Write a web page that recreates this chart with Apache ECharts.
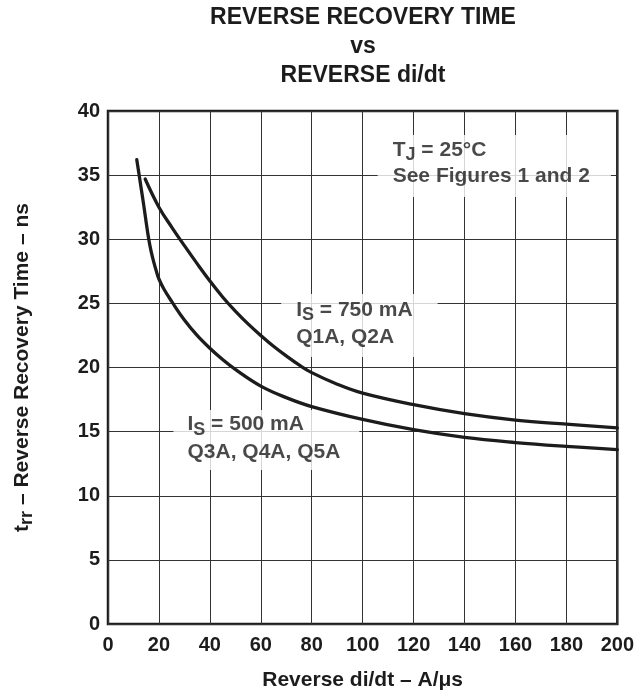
<!DOCTYPE html>
<html>
<head>
<meta charset="utf-8">
<script src="https://cdn.jsdelivr.net/npm/echarts@6/dist/echarts.min.js"></script>
<style>
  html, body { margin: 0; padding: 0; background: #fff; }
  #chart { width: 637px; height: 696px; }
</style>
</head>
<body>
<div id="chart"></div>
<script>
// Reverse recovery time t_rr (ns) against reverse di/dt (A/µs)
// IS = 750 mA (Q1A, Q2A)
const didtHigh = [14.6, 20, 25, 30, 35, 40, 45, 50, 55, 60, 65, 70, 75, 80, 90, 100, 120, 140, 160, 180, 200];
const trrHigh  = [34.7, 32.5, 30.95, 29.5, 28.1, 26.75, 25.5, 24.4, 23.4, 22.5, 21.65, 20.9, 20.2, 19.6, 18.7, 18.0, 17.1, 16.4, 15.9, 15.58, 15.3];

// IS = 500 mA (Q3A, Q4A, Q5A)
const didtLow = [11.3, 12, 13, 14, 15, 16, 17, 18, 19, 20, 22, 25, 30, 35, 40, 45, 50, 60, 70, 80, 100, 120, 140, 160, 180, 200];
const trrLow  = [36.2, 35.3, 34.0, 32.7, 31.3, 30.0, 29.0, 28.2, 27.5, 26.9, 26.1, 25.15, 23.7, 22.5, 21.5, 20.62, 19.85, 18.55, 17.65, 16.95, 15.95, 15.15, 14.55, 14.15, 13.85, 13.6];

const xTickLabels = ['0', '20', '40', '60', '80', '100', '120', '140', '160', '180', '200'];
const yTickLabels = ['0', '5', '10', '15', '20', '25', '30', '35', '40'];

const titleLines = ['REVERSE RECOVERY TIME', 'vs', 'REVERSE di/dt'];
const xName = 'Reverse di/dt \u2013 A/\u03bcs';
const yName = '{m|t}{s|rr}{m| \u2013 Reverse Recovery Time \u2013 ns}';

// Condition notes: text and the data point at the top-left corner of each note box
const noteText = [
  '{m|T}{s|J}{m| = 25\u00b0C}\n{m|See Figures 1 and 2}',
  '{m|I}{s|S}{m| = 750 mA}\n{m|Q1A, Q2A}',
  '{m|I}{s|S}{m| = 500 mA}\n{m|Q3A, Q4A, Q5A}'
];
const noteAnchor = [[105.9, 38.13], [68.0, 25.73], [25.7, 16.69]];

// ---- styling ----
const FONT = '"Liberation Sans", Arial, Helvetica, sans-serif';
const INK = '#1c1c1c';
const noteLayout = [
  { lineHeight: 26, padding: [2, 21, 8, 15] },
  { lineHeight: 27, padding: [3, 25, 6, 15] },
  { lineHeight: 27.5, padding: [1, 19, 4, 14] }
];

function richFor(lineHeight, size, subSize) {
  return {
    m: { fontSize: size, fontWeight: 'bold', fontFamily: FONT, color: INK, lineHeight: lineHeight },
    s: { fontSize: subSize, fontWeight: 'bold', fontFamily: FONT, color: INK,
         lineHeight: lineHeight - 10, padding: [10, 0, 0, 0] }
  };
}

const chart = echarts.init(document.getElementById('chart'), null, { renderer: 'canvas' });

const curveStyle = { color: INK, width: 3.3, cap: 'round', join: 'round' };

const option = {
  backgroundColor: '#fff',
  animation: false,
  graphic: [{
    type: 'text',
    x: 363,
    y: 3.5,
    style: {
      text: titleLines.join('\n'),
      font: 'bold 23px ' + FONT,
      fill: INK,
      align: 'center',
      verticalAlign: 'top',
      lineHeight: 29
    }
  }],
  grid: {
    left: 106, right: 19, top: 111, bottom: 72,
    show: true,
    borderColor: INK,
    borderWidth: 2.5,
    backgroundColor: 'transparent'
  },
  xAxis: {
    type: 'value',
    min: 0, max: 200, interval: 20,
    name: xName,
    nameLocation: 'middle',
    nameGap: 46,
    nameTextStyle: { fontSize: 21, fontWeight: 'bold', fontFamily: FONT, color: INK, lineHeight: 21 },
    axisLine: { show: false },
    axisTick: { show: false },
    axisLabel: {
      margin: 11,
      fontSize: 20, fontWeight: 'bold', fontFamily: FONT, color: INK, lineHeight: 20,
      showMinLabel: true, showMaxLabel: true,
      formatter: (v) => xTickLabels[Math.round(v / 20)]
    },
    splitLine: { show: true, lineStyle: { color: '#333', width: 1 } }
  },
  yAxis: {
    type: 'value',
    min: 0, max: 40, interval: 5,
    name: yName,
    nameLocation: 'middle',
    nameGap: 75,
    nameRotate: 90,
    nameTextStyle: { rich: richFor(22, 21, 18) },
    axisLine: { show: false },
    axisTick: { show: false },
    axisLabel: {
      margin: 8,
      fontSize: 20, fontWeight: 'bold', fontFamily: FONT, color: INK,
      showMinLabel: true, showMaxLabel: true,
      formatter: (v) => yTickLabels[Math.round(v / 5)]
    },
    splitLine: { show: true, lineStyle: { color: '#333', width: 1 } }
  },
  series: [
    {
      name: 'notes',
      type: 'scatter',
      z: 2,
      symbolSize: 0,
      silent: true,
      data: noteAnchor.map((p, i) => ({
        value: p,
        label: {
          show: true,
          position: [0, 0],
          align: 'left',
          verticalAlign: 'top',
          formatter: noteText[i],
          backgroundColor: '#fff',
          padding: noteLayout[i].padding,
          rich: richFor(noteLayout[i].lineHeight, 21, 18)
        }
      }))
    },
    {
      name: 'IS = 750 mA',
      type: 'line',
      z: 3,
      smooth: 0.4,
      showSymbol: false,
      lineStyle: curveStyle,
      data: didtHigh.map((x, i) => [x, trrHigh[i]])
    },
    {
      name: 'IS = 500 mA',
      type: 'line',
      z: 3,
      smooth: 0.4,
      showSymbol: false,
      lineStyle: curveStyle,
      data: didtLow.map((x, i) => [x, trrLow[i]])
    }
  ]
};

chart.setOption(option);
</script>
</body>
</html>
